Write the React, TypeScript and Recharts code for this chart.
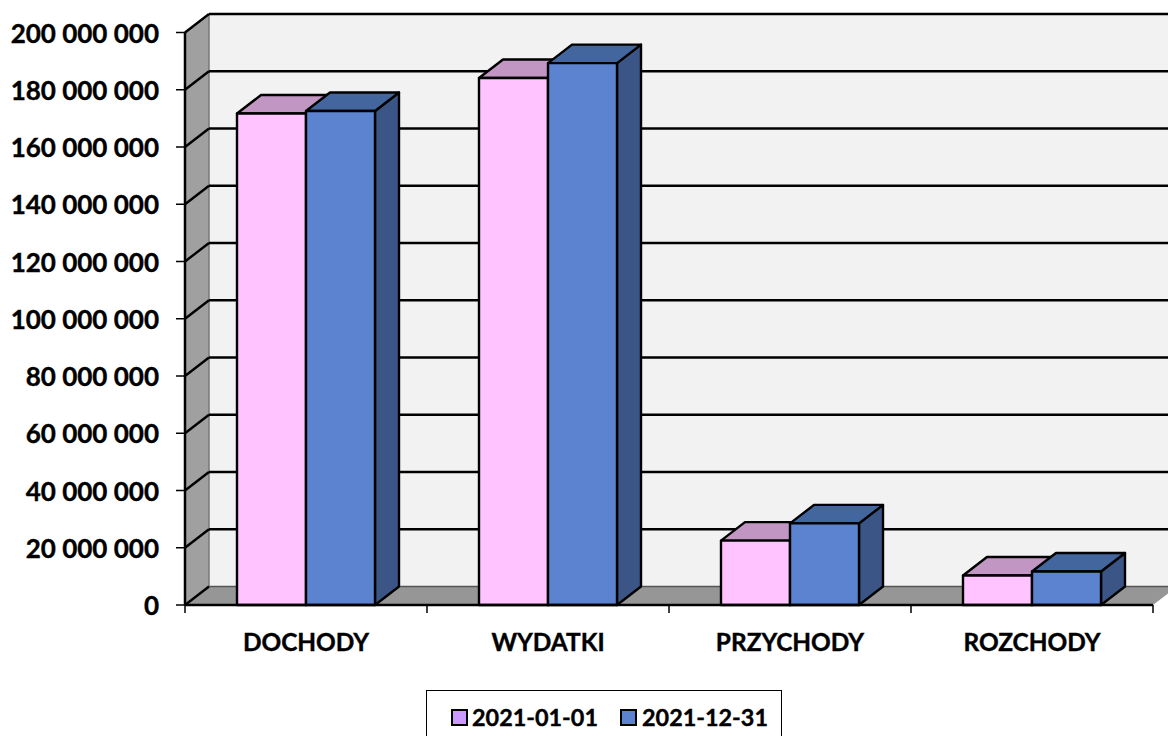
import React from 'react';
import { BarChart, Bar, XAxis, YAxis, CartesianGrid, Legend } from 'recharts';

const categories = ['DOCHODY', 'WYDATKI', 'PRZYCHODY', 'ROZCHODY'];
const startValues = [171700000, 184100000, 22500000, 10300000];
const endValues = [172600000, 189300000, 28500000, 11700000];
const yTicks = [0, 20000000, 40000000, 60000000, 80000000, 100000000, 120000000, 140000000, 160000000, 180000000, 200000000];
const seriesNames = ['2021-01-01', '2021-12-31'];
const legendColors = ['#cc99ff', '#5b83cf'];

const chartData = categories.map((name, i) => ({ name, start: startValues[i], end: endValues[i] }));

const DX = 24;
const DY = 18.5;
const FONT = 'Lato, "Open Sans", sans-serif';

const formatTick = (v: number) => String(v).replace(/\B(?=(\d{3})+$)/g, ' ');

// 3D box: front face plus top and right side
const makeBox = (front: string, top: string, side: string) => (props: any) => {
  const { x, y, width, height } = props;
  const common = { stroke: '#000', strokeWidth: 2.4, strokeLinejoin: 'round' as const };
  return (
    <g>
      <polygon
        points={`${x + width},${y} ${x + width + DX},${y - DY} ${x + width + DX},${y + height - DY} ${x + width},${y + height}`}
        fill={side}
        {...common}
      />
      <polygon
        points={`${x},${y} ${x + DX},${y - DY} ${x + width + DX},${y - DY} ${x + width},${y}`}
        fill={top}
        {...common}
      />
      <rect x={x} y={y} width={width} height={height} fill={front} {...common} />
    </g>
  );
};

const PinkBox = makeBox('#ffc4ff', '#c296c2', '#c296c2');
const BlueBox = makeBox('#5b83cf', '#44669e', '#3b5686');

// grid line with its diagonal on the left wall; the first one also lays down the walls
const gridLine = (props: any) => {
  const { x1, x2, y1, index, x, y, width, height } = props;
  const bottom = y + height;
  const isFloor = Math.abs(y1 - bottom) < 1;
  return (
    <g key={`grid-${index}`}>
      {index === 0 && (
        <g>
          <rect x={x + DX} y={y - DY} width={width} height={height} fill="#f2f2f2" />
          <polygon
            points={`${x},${bottom} ${x + DX},${bottom - DY} ${x + DX},${y - DY} ${x},${y}`}
            fill="#a0a0a0"
          />
          <polygon
            points={`${x},${bottom} ${x + DX},${bottom - DY} ${x + width + DX},${bottom - DY} ${x + width},${bottom}`}
            fill="#969696"
          />
          <line x1={x + DX} y1={y - DY} x2={x + DX} y2={bottom - DY} stroke="#777" strokeWidth={1.5} />
        </g>
      )}
      <line x1={x1} y1={y1} x2={x1 + DX} y2={y1 - DY} stroke="#000" strokeWidth={2.4} />
      <line
        x1={x1 + DX}
        y1={y1 - DY}
        x2={x2 + DX}
        y2={y1 - DY}
        stroke={isFloor ? '#555' : '#000'}
        strokeWidth={isFloor ? 1.5 : 2.4}
      />
    </g>
  );
};

// category label, with the tick marks on the band edges instead of the centre
const CategoryTick = (props: any) => {
  const { x, y, payload, index } = props;
  const half = payload.offset || 121;
  const axisY = y - 8;
  return (
    <g>
      <line x1={x - half} y1={axisY} x2={x - half} y2={axisY + 8} stroke="#000" strokeWidth={1.5} />
      {index === categories.length - 1 && (
        <line x1={x + half} y1={axisY} x2={x + half} y2={axisY + 8} stroke="#000" strokeWidth={1.5} />
      )}
      <text
        x={x}
        y={axisY + 46}
        textAnchor="middle"
        fontFamily={FONT}
        fontWeight={700}
        fontSize={24.4}
        fill="#000"
        stroke="#000"
        strokeWidth={0.4}
      >
        {payload.value}
      </text>
    </g>
  );
};

const LegendBox = () => (
  <div
    style={{
      boxSizing: 'border-box',
      width: 356,
      height: 46,
      border: '1px solid #000',
      borderBottom: 'none',
      background: '#fff',
      position: 'relative',
      fontFamily: FONT,
      fontWeight: 700,
      fontSize: 23.4,
      color: '#000',
      WebkitTextStroke: '0.4px #000',
    }}
  >
    {seriesNames.map((name, i) => (
      <React.Fragment key={name}>
        <span
          style={{
            position: 'absolute',
            boxSizing: 'border-box',
            left: i === 0 ? 24 : 193,
            top: 18,
            width: 17,
            height: 17,
            background: legendColors[i],
            border: '2px solid #000',
          }}
        />
        <span style={{ position: 'absolute', left: i === 0 ? 45 : 215, top: 11, lineHeight: '30px' }}>{name}</span>
      </React.Fragment>
    ))}
  </div>
);

const App = () => {
  const yTickStyle = { fontFamily: FONT, fontWeight: 700, fontSize: 26, fill: '#000', stroke: '#000', strokeWidth: 0.4, dy: 1 };
  return (
    <div style={{ position: 'absolute', left: 0, top: 0, width: 1168, height: 736, background: '#fff', overflow: 'hidden' }}>
      <BarChart
        width={1168}
        height={736}
        data={chartData}
        margin={{ top: 32.5, right: 15, bottom: 55, left: 5 }}
        barSize={69}
        barGap={0}
      >
        <CartesianGrid horizontal={gridLine} vertical={false} />
        <XAxis
          dataKey="name"
          tick={<CategoryTick />}
          tickLine={false}
          axisLine={{ stroke: '#000', strokeWidth: 2.5 }}
          tickSize={8}
          tickMargin={0}
          interval={0}
        />
        <YAxis
          width={180}
          domain={[0, 200000000]}
          ticks={yTicks}
          tickFormatter={formatTick}
          tick={yTickStyle}
          tickLine={{ stroke: '#000', strokeWidth: 1.5 }}
          axisLine={{ stroke: '#000', strokeWidth: 2.5 }}
          tickSize={9}
          tickMargin={17}
        />
        <Bar dataKey="start" name={seriesNames[0]} shape={PinkBox} fill="#ffc4ff" isAnimationActive={false} />
        <Bar dataKey="end" name={seriesNames[1]} shape={BlueBox} fill="#5b83cf" isAnimationActive={false} />
        <Legend
          content={<LegendBox />}
          wrapperStyle={{ position: 'absolute', left: 426, top: 690, width: 356, bottom: 'auto' }}
        />
      </BarChart>
    </div>
  );
};

export default App;
